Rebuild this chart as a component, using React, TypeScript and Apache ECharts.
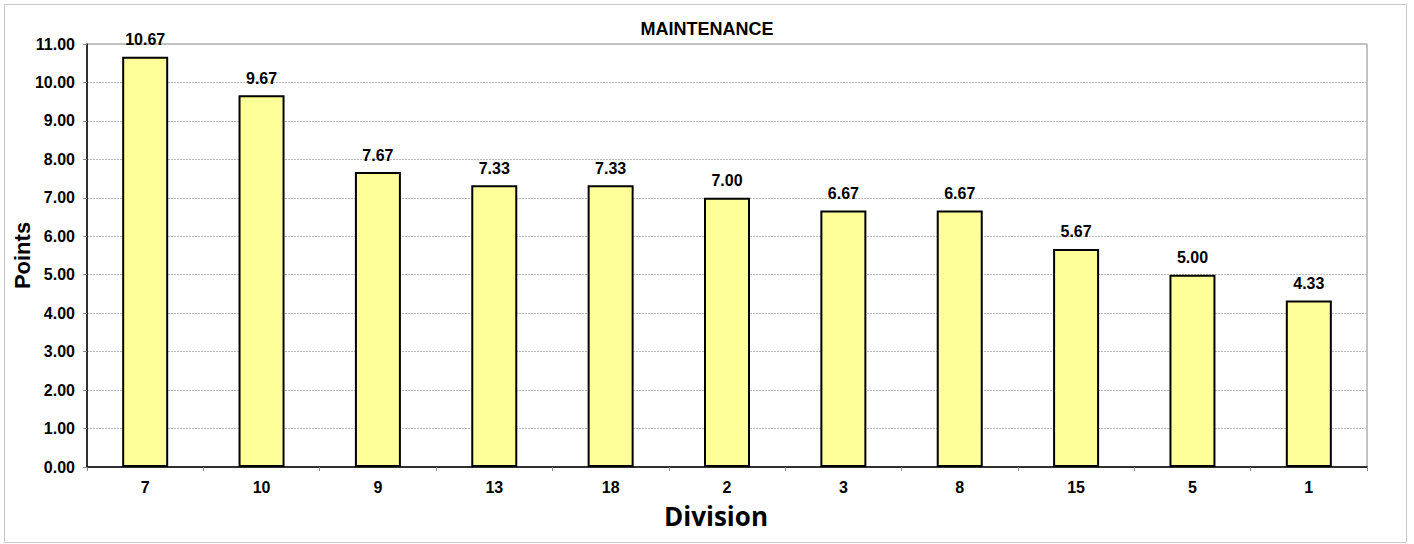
import React, { useEffect, useRef } from "react";
import * as echarts from "echarts";

const categories = ["7", "10", "9", "13", "18", "2", "3", "8", "15", "5", "1"];
const points = [10.67, 9.67, 7.67, 7.33, 7.33, 7.0, 6.67, 6.67, 5.67, 5.0, 4.33];
const title = "MAINTENANCE";
const yName = "Points";
const xName = "Division";

export default function App() {
  const ref = useRef<HTMLDivElement>(null);
  useEffect(() => {
    if (!ref.current) return;
    const chart = echarts.init(ref.current, null, { renderer: "svg" });
    const font = "Arial, 'Liberation Sans', sans-serif";
    chart.setOption({
      animation: false,
      backgroundColor: "#ffffff",
      title: {
        text: title,
        left: "center",
        top: 15,
        textStyle: { fontFamily: font, fontWeight: "bold", fontSize: 18, color: "#000" },
      },
      graphic: [
        {
          type: "rect",
          shape: { x: 4.5, y: 4.5, width: 1402, height: 538 },
          style: { fill: "none", stroke: "#c8c8c8", lineWidth: 1 },
          silent: true,
        },
      ],
      grid: {
        left: 87,
        right: 47,
        top: 44,
        bottom: 77,
        containLabel: false,
        outerBoundsMode: "none",
        show: true,
        borderColor: "#888",
        borderWidth: 1,
        backgroundColor: "transparent",
      },
      xAxis: {
        type: "category",
        data: categories,
        name: xName,
        nameLocation: "middle",
        nameGap: 36,
        nameMoveOverlap: false,
        nameTextStyle: {
          fontFamily: "'Open Sans', 'Noto Sans', sans-serif",
          fontWeight: "bold",
          fontSize: 26,
          color: "#000",
          padding: [0, 22, 0, 0],
        },
        axisLine: { lineStyle: { color: "#000", width: 1.5 } },
        axisTick: { show: true, alignWithLabel: false, length: 4, lineStyle: { color: "#888" } },
        axisLabel: { fontFamily: font, fontWeight: "bold", fontSize: 16, color: "#000", margin: 12 },
        splitLine: { show: false },
      },
      yAxis: {
        type: "value",
        min: 0,
        max: 11,
        interval: 1,
        name: yName,
        nameLocation: "middle",
        nameGap: 54,
        nameMoveOverlap: false,
        nameTextStyle: { fontFamily: font, fontWeight: "bold", fontSize: 22, color: "#000" },
        axisLine: { show: true, lineStyle: { color: "#000", width: 1.5 } },
        axisTick: { show: true, length: 4, lineStyle: { color: "#888" } },
        axisLabel: {
          fontFamily: font,
          fontWeight: "bold",
          fontSize: 16,
          color: "#000",
          margin: 12,
          formatter: (v: number) => v.toFixed(2),
        },
        splitLine: { show: true, lineStyle: { color: "#bbb", type: [2, 1], width: 1 } },
      },
      series: [
        {
          type: "bar",
          data: points,
          barWidth: 46,
          itemStyle: { color: "#FFFF99", borderColor: "#000", borderWidth: 2 },
          label: {
            show: true,
            position: "top",
            distance: 9,
            fontFamily: font,
            fontWeight: "bold",
            fontSize: 16,
            color: "#000",
            formatter: (p: any) => Number(p.value).toFixed(2),
          },
        },
      ],
    });
    return () => chart.dispose();
  }, []);
  return (
    <div
      ref={ref}
      style={{ position: "fixed", left: 0, top: 0, width: 1414, height: 544 }}
    />
  );
}
